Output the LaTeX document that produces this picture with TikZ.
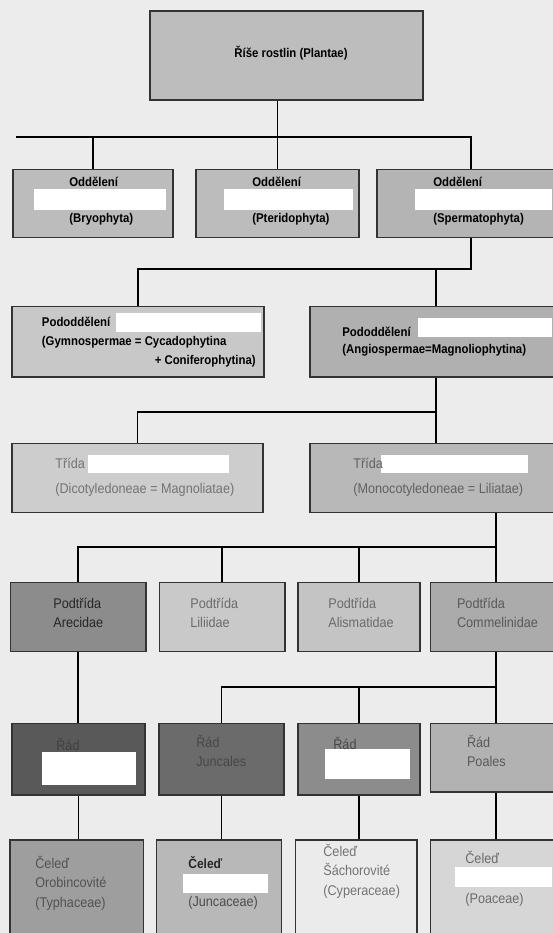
\documentclass[tikz,border=0pt]{standalone}
\usepackage{fontspec}
\setmainfont{Liberation Sans}[FakeStretch=0.9]
\usetikzlibrary{fit,calc}

\definecolor{paper}{HTML}{ECECEC}
\definecolor{gtop}{HTML}{BDBDBD}
\definecolor{gdiv}{HTML}{BCBCBC}
\definecolor{gdivb}{HTML}{B4B4B4}
\definecolor{gsubl}{HTML}{C8C8C8}
\definecolor{gsubr}{HTML}{B0B0B0}
\definecolor{gclsl}{HTML}{CDCDCD}
\definecolor{gclsr}{HTML}{B8B8B8}

\tikzset{
  box/.style={draw=black!80, line width=0.6pt, inner sep=0pt},
  blank/.style={fill=white, draw=none, inner sep=0pt},
  link/.style={line width=1.1pt},
  head/.style={font=\fontsize{7.2}{11}\selectfont\bfseries, inner sep=0pt, anchor=west},
  lbl/.style={font=\fontsize{8}{11}\selectfont, inner sep=0pt, anchor=west, align=left},
}

\begin{document}
\begin{tikzpicture}[x=0.02cm, y=-0.02cm]
    \useasboundingbox (0,0) rectangle (553,933);
    \clip (0,0) rectangle (553,933);
    \fill[paper] (0,0) rectangle (553,933);

    % kingdom
    \node[box, fill=gtop, fit={(150,11) (423,100)}] (plantae) {};
    \node[head, anchor=center] (plantaetx) at (291,53) {Říše rostlin (Plantae)};

    % divisions
    \foreach \n/\xa/\xb/\fc/\tx/\ba/\bb/\nm in {bryo/13/173/gdiv/69/33.5/166/Bryophyta,
        pter/196/359/gdiv/252/224/353/Pteridophyta,
        sperm/377/565/gdivb/433/415/552/Spermatophyta} {
        \node[box, fill=\fc, fit={(\xa,169.3) (\xb,237.3)}] (\n) {};
        \node[blank, fit={(\ba,189) (\bb,210)}] (\n bl) {};
        \node[head] (\n hd) at (\tx,181.7) {Oddělení};
        \node[head] (\n nm) at (\tx,219) {(\nm)};
    }

    % subdivisions
    \node[box, fill=gsubl, fit={(12,306.7) (264,377)}] (gymno) {};
    \node[blank, fit={(116,313) (261,332)}] (gymnobl) {};
    \node[head] (gymnohd) at (41.6,321.7) {Pododdělení};
    \node[head] (gymnonm) at (41.6,342.7) {(Gymnospermae = Cycadophytina};
    \node[head, anchor=east] (gymnonm2) at (256,361.7) {+ Coniferophytina)};

    \node[box, fill=gsubr, fit={(310,306.7) (562,377)}] (angio) {};
    \node[blank, fit={(418,318) (552,337)}] (angiobl) {};
    \node[head] (angiohd) at (342,331.7) {Pododdělení};
    \node[head] (angionm) at (342,350.5) {(Angiospermae=Magnoliophytina)};

    % classes
    \node[box, fill=gclsl, fit={(12,443.3) (263,512.5)}] (dicot) {};
    \node[blank, fit={(88,455) (229,472.7)}] (dicotbl) {};
    \node[lbl, text=black!55] (dicothd) at (55,463.3) {Třída};
    \node[lbl, text=black!55] (dicotnm) at (55,490) {(Dicotyledoneae = Magnoliatae)};

    \node[box, fill=gclsr, fit={(310,443.3) (562,512.5)}] (mono) {};
    \node[blank, fit={(381,455) (528,472.7)}] (monobl) {};
    \node[lbl, text=black!62] (monohd) at (353,463.3) {Třída};
    \node[lbl, text=black!62] (mononm) at (353,490) {(Monocotyledoneae = Liliatae)};

    % subclasses
    \foreach \n/\xa/\xb/\fc/\tc/\tx/\nm in {arec/10.6/146/black!45/black!85/53/Arecidae,
        lili/159.4/285/black!21/black!58/190/Liliidae,
        alis/298/420/black!23/black!58/328/Alismatidae,
        comm/430.7/562/black!33/black!65/456.7/Commelinidae} {
        \node[box, fill=\fc, fit={(\xa,582.7) (\xb,651.7)}] (\n) {};
        \node[lbl, text=\tc] (\n tx) at (\tx,613) {Podtřída\\\nm};
    }

    % orders
    \node[box, fill=black!65, fit={(12,723.3) (145,795)}] (rad1) {};
    \node[blank, fit={(41.6,751.7) (136,785)}] (rad1bl) {};
    \node[lbl, text=black!75] (rad1tx) at (56,744) {Řád};
    \node[box, fill=black!58, fit={(159,723.3) (284,795)}] (rad2) {};
    \node[lbl, text=black!72] (rad2tx) at (196,751) {Řád\\Juncales};
    \node[box, fill=black!45, fit={(298,723.3) (420,795)}] (rad3) {};
    \node[blank, fit={(325,749) (410,779)}] (rad3bl) {};
    \node[lbl, text=black!72] (rad3tx) at (333,743) {Řád};
    \node[box, fill=black!30, fit={(430.7,723.3) (562,792)}] (rad4) {};
    \node[lbl, text=black!65] (rad4tx) at (466.7,751) {Řád\\Poales};

    % families
    \node[box, fill=black!38, fit={(10,840) (143.3,950)}] (cel1) {};
    \node[lbl, text=black!68] (cel1tx) at (35,883.3) {Čeleď\\Orobincovité\\(Typhaceae)};
    \node[box, fill=black!28, fit={(156.7,840) (281.7,950)}] (cel2) {};
    \node[blank, fit={(182.7,874) (268.3,892.7)}] (cel2bl) {};
    \node[lbl, text=black!85, font=\fontsize{7.6}{11}\selectfont\bfseries] (cel2hd) at (188,863) {Čeleď};
    \node[lbl, text=black!70] (cel2nm) at (188,903.3) {(Juncaceae)};
    \node[box, fill=black!8, fit={(295.6,840) (417,950)}] (cel3) {};
    \node[lbl, text=black!55] (cel3tx) at (323,871) {Čeleď\\Šáchorovité\\(Cyperaceae)};
    \node[box, fill=black!16, fit={(430.7,840) (562,950)}] (cel4) {};
    \node[blank, fit={(455,866.7) (552,886.7)}] (cel4bl) {};
    \node[lbl, text=black!58] (cel4hd) at (465,857.3) {Čeleď};
    \node[lbl, text=black!58] (cel4nm) at (465,900) {(Poaceae)};

    % connectors
    \coordinate (bus1) at (16,137);
    \coordinate (bus2) at (0,269.3);
    \coordinate (bus3) at (0,411.7);
    \coordinate (bus4) at (0,546.7);
    \coordinate (bus5) at (0,687.3);
    \draw[link] (plantae.south -| pter.north) -- (pter.north);
    \draw[link] (bus1) -- (bus1 -| sperm.north) -- (sperm.north);
    \draw[link] (bryo.north) -- (bryo.north |- bus1);
    \draw[link] (sperm.south) -- (sperm.south |- bus2) -| (gymno.north);
    \draw[link] (angio.north) -- (angio.north |- bus2);
    \draw[link] (angio.south) -- (angio.south |- bus3) -| (dicot.north);
    \draw[link] (mono.north) -- (mono.north |- bus3);
    \draw[link] (mono.south -| comm.north) -- (comm.north);
    \draw[link] (comm.north |- bus4) -| (arec.north);
    \foreach \m in {lili,alis}
        \draw[link] (\m.north) -- (\m.north |- bus4);
    \draw[link] (arec.south) -- (arec.south |- rad1.north);
    \draw[link] (comm.south) -- (comm.south |- bus5) -| (rad2.north);
    \draw[link] (rad3.north) -- (rad3.north |- bus5);
    \draw[link] (rad4.north) -- (rad4.north |- bus5);
    \foreach \m/\k in {rad1/cel1, rad2/cel2, rad3/cel3, rad4/cel4}
        \draw[link] (\m.south) -- (\m.south |- \k.north);
\end{tikzpicture}
\end{document}
